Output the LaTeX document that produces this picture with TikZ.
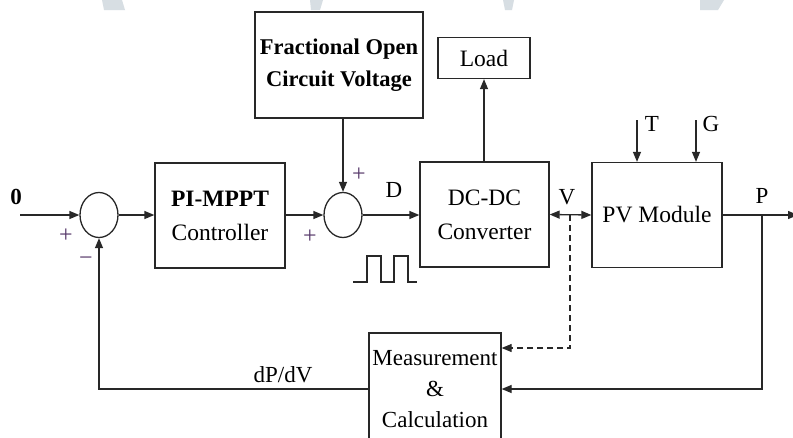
\documentclass[tikz,border=0pt]{standalone}
\usepackage{fontspec}
\setmainfont{Liberation Serif}
\usetikzlibrary{arrows.meta,shapes.geometric}
\definecolor{ln}{RGB}{40,40,40}
\definecolor{sg}{RGB}{85,55,105}
\definecolor{wm}{RGB}{215,222,227}
\begin{document}
\begin{tikzpicture}[x=1pt,y=-1pt,line width=1.3pt,
  blk/.style={draw=ln,rectangle,inner sep=0pt,align=center,font=\fontsize{23.5}{34}\selectfont},
  sumj/.style={draw=ln,ellipse,minimum width=38pt,minimum height=45pt,inner sep=0pt},
  lbl/.style={inner sep=0pt,font=\fontsize{23}{26}\selectfont},
  sgn/.style={inner sep=0pt,text=sg,font=\fontsize{24}{26}\selectfont},
  arr/.style={draw=ln,-{Triangle[length=10pt,width=8pt]}},
  darr/.style={draw=ln,{Triangle[length=10pt,width=8pt]}-{Triangle[length=10pt,width=8pt]}}]
\useasboundingbox (0,0) rectangle (793,437);
\fill[white] (0,0) rectangle (793,437);
% faint watermark fragments at the top edge
\fill[wm] (102,0) -- (122,0) -- (125,10) -- (104,10) -- cycle;
\fill[wm] (310,0) -- (323,0) -- (320,10) -- (311,10) -- cycle;
\fill[wm] (503,0) -- (514,0) -- (512,10) -- (505,10) -- cycle;
\fill[wm] (700,0) -- (724,0) -- (718,10) -- (700,10) -- cycle;
% blocks
\node[blk,minimum width=168pt,minimum height=106pt,font=\bfseries\fontsize{22.5}{32}\selectfont] (frac) at (339,65) {Fractional Open\\Circuit Voltage};
\node[blk,minimum width=92pt,minimum height=41pt] (load) at (484,58) {Load};
\node[blk,minimum width=130pt,minimum height=105pt] (pi) at (220,215.5) {\textbf{PI-MPPT}\\Controller};
\node[blk,minimum width=129pt,minimum height=105pt] (dc) at (484.5,214.5) {DC-DC\\Converter};
\node[blk,minimum width=130pt,minimum height=105pt] (pv) at (657,215) {PV Module};
\node[blk,minimum width=132pt,minimum height=112pt,font=\fontsize{23}{31}\selectfont] (meas) at (435,389) {Measurement\\\&\\Calculation};
\node[sumj] (s1) at (99,215) {};
\node[sumj] (s2) at (343,215) {};
% coordinates
\coordinate (in) at (20,215);
\coordinate (out) at (798,215);
\coordinate (vtap) at (570,215);
\coordinate (ptap) at (762,215);
\coordinate (tin) at (637,120);
\coordinate (gin) at (696,120);
% connectors
\draw[arr] (in) -- (s1.west);
\draw[arr] (s1.east) -- (pi.west |- s1.east);
\draw[arr] (s2.west -| pi.east) -- (s2.west);
\draw[arr] (s2.north |- frac.south) -- (s2.north);
\draw[arr] (s2.east) -- (dc.west |- s2.east);
\draw[arr] (dc.north -| load.south) -- (load.south);
\draw[darr] (dc.east) -- (pv.west);
\draw[arr] (pv.east) -- (out);
\draw[arr] (tin) -- (tin |- pv.north);
\draw[arr] (gin) -- (gin |- pv.north);
\draw[arr,line width=1.1pt,dash pattern=on 6pt off 4pt] (vtap) |- ([yshift=41pt]meas.east);
\draw[arr] (ptap) |- (meas.east);
\draw[arr] (meas.west) -| (s1.south);
% pulse train
\draw[ln,line width=1.2pt] (353,282) -- (367,282) -- (367,256) -- (381,256) -- (381,282) -- (394,282) -- (394,256) -- (408,256) -- (408,282) -- (417,282);
% labels
\node[lbl] (zero) at (16,197) {\textbf{0}};
\node[lbl] (dlab) at (394,190) {D};
\node[lbl] (vlab) at (567,197) {V};
\node[lbl] (plab) at (762,196) {P};
\node[lbl] (tlab) at (652,124) {T};
\node[lbl] (glab) at (711,124) {G};
\node[lbl] (dpdv) at (283,375) {dP/dV};
\node[sgn] (p1) at (66,236) {+};
\node[sgn] (m1) at (86,261) {\textminus};
\node[sgn] (p2) at (310,237) {+};
\node[sgn] (p3) at (359,175) {+};
\end{tikzpicture}
\end{document}
